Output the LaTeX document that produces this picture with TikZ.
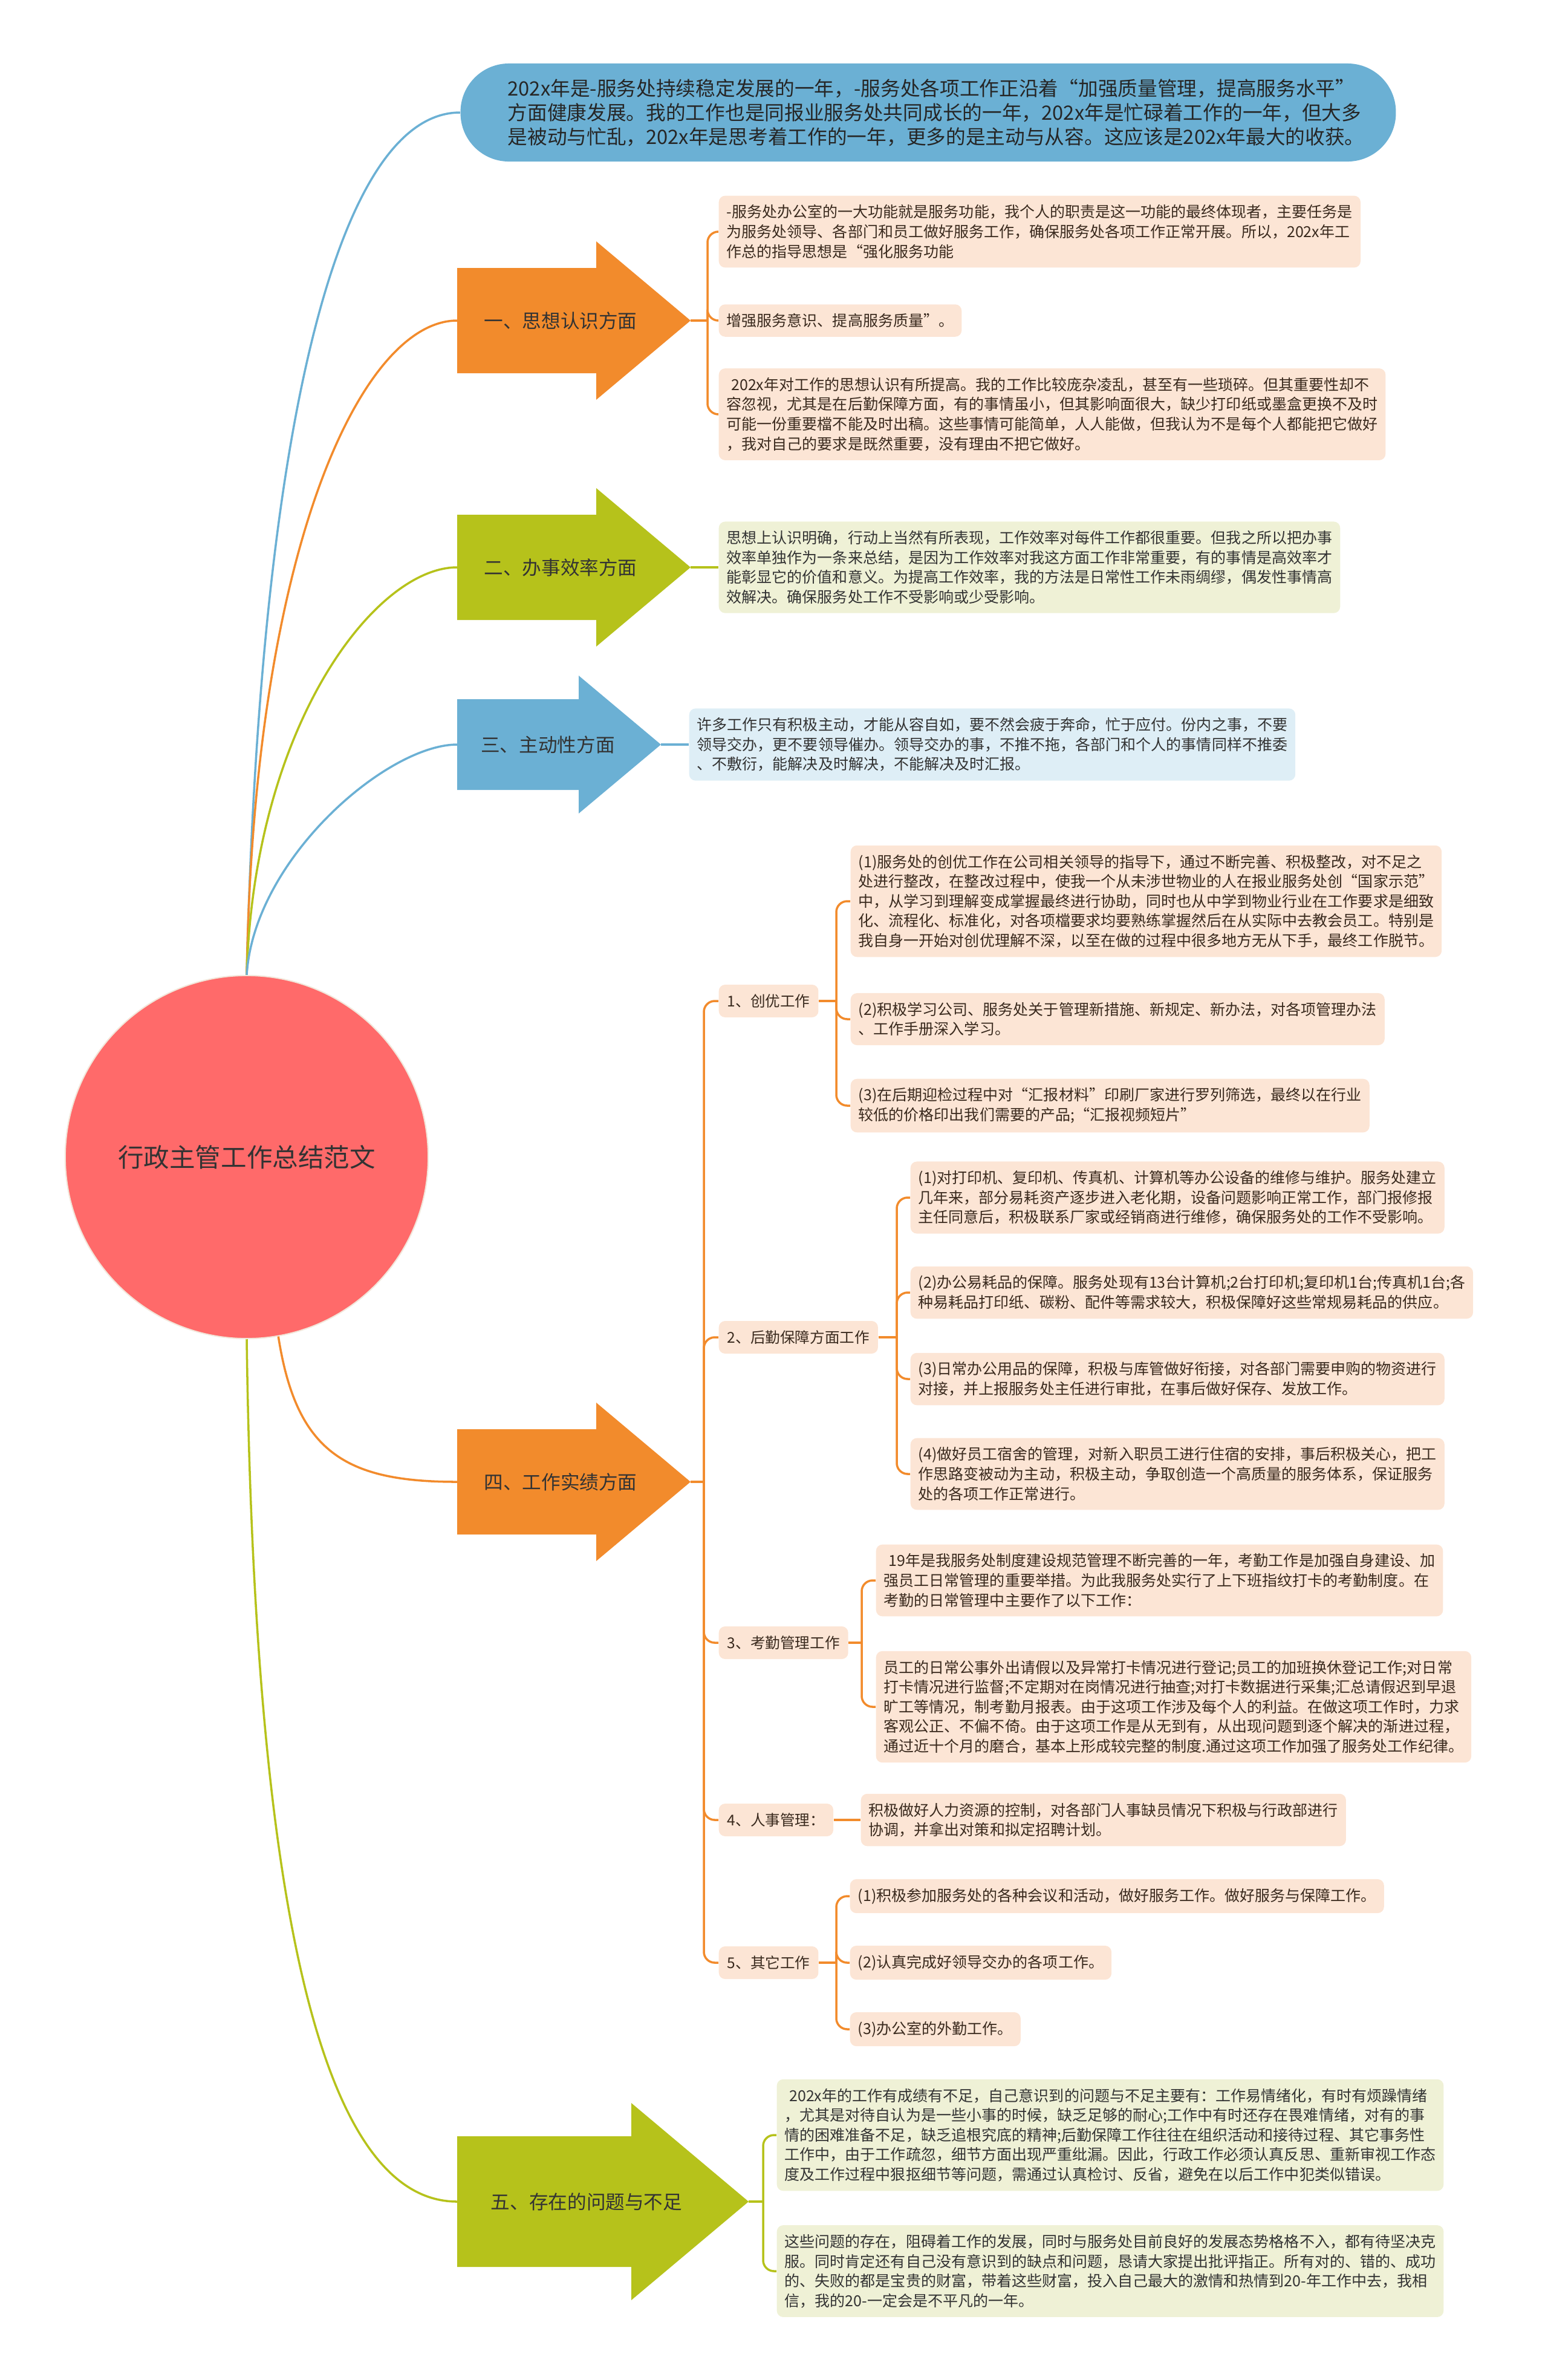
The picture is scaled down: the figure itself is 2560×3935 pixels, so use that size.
\documentclass[tikz,border=0pt]{standalone}
\usepackage{fontspec}
\setmainfont{Noto Sans CJK SC}
\definecolor{orA}{HTML}{F28B2C}
\definecolor{grA}{HTML}{B6C21B}
\definecolor{blA}{HTML}{6BB0D4}
\definecolor{rdA}{HTML}{FF6A6A}
\definecolor{rim}{HTML}{F2E6DA}
\definecolor{orBox}{HTML}{FCE5D5}
\definecolor{grBox}{HTML}{EFF1D6}
\definecolor{blBox}{HTML}{DEEEF6}
\definecolor{txt}{HTML}{3A2A1E}
\begin{document}
\begin{tikzpicture}[x=0.01cm, y=-0.01cm,
  leaf/.style={anchor=west, align=left, rounded corners=3pt, inner xsep=0.13cm,
    inner ysep=0.15cm, font=\fontsize{7.12}{9.28}\selectfont, text=txt},
  orleaf/.style={leaf, fill=orBox},
  grleaf/.style={leaf, fill=grBox, text=black!80},
  blleaf/.style={leaf, fill=blBox, text=black!80},
  sub/.style={anchor=west, fill=orBox, rounded corners=3pt, inner xsep=0.14cm,
    minimum height=0.54cm, font=\fontsize{7}{9}\selectfont, text=txt},
  armtext/.style={font=\fontsize{9}{11}\selectfont, text=black!80},
  orline/.style={draw=orA, line width=1pt},
  grline/.style={draw=grA, line width=1pt},
  blline/.style={draw=blA, line width=1pt},
  brace/.style={rounded corners=0.18cm}]
  \useasboundingbox (0,0) rectangle (2560,3935);

  \foreach \n/\y/\c in {1/530/orA, 2/938/grA, 4/2450/orA} {
    \fill[\c] (756,\y-87) -- (986,\y-87) -- (986,\y-131) -- (1142,\y)
      -- (986,\y+131) -- (986,\y+87) -- (756,\y+87) -- cycle;
    \coordinate (s\n) at (756,\y);
    \coordinate (t\n) at (1142,\y);
  }
  \fill[blA] (756,1156) -- (957,1156) -- (957,1117) -- (1093,1231)
    -- (957,1345) -- (957,1306) -- (756,1306) -- cycle;
  \coordinate (s3) at (756,1231);
  \coordinate (t3) at (1093,1231);
  \fill[grA] (756,3532) -- (1044,3532) -- (1044,3477) -- (1238,3640)
    -- (1044,3803) -- (1044,3748) -- (756,3748) -- cycle;
  \coordinate (s5) at (756,3640);
  \coordinate (t5) at (1238,3640);

  \node[armtext] (b1) at (927,530) {一、思想认识方面};
  \node[armtext] (b2) at (927,938) {二、办事效率方面};
  \node[armtext] (b3) at (906,1231) {三、主动性方面};
  \node[armtext] (b4) at (927,2450) {四、工作实绩方面};
  \node[armtext] (b5) at (970,3640) {五、存在的问题与不足};

  \node[circle, fill=rdA, draw=rim, line width=0.6pt, minimum size=6cm, inner sep=0pt,
    font=\fontsize{12.1}{14}\selectfont, text=black!80] (root) at (408,1913) {行政主管工作总结范文};

  \node[fill=blA, rounded corners=0.8cm, minimum height=1.62cm, text width=13.9cm,
    inner xsep=0.78cm, align=left, font=\fontsize{9.3}{11.4}\selectfont, text=black!85]
    (top) at (1535,186) {202x年是-服务处持续稳定发展的一年，-服务处各项工作正沿着“加强质量管理，提高服务水平”\\
    方面健康发展。我的工作也是同报业服务处共同成长的一年，202x年是忙碌着工作的一年，但大多\\
    是被动与忙乱，202x年是思考着工作的一年，更多的是主动与从容。这应该是202x年最大的收获。};

  \draw[blline] (root.north) .. controls (430,700) and (560,186) .. (top.west);
  \draw[orline] (root.north) .. controls (420,900) and (600,530) .. (s1);
  \draw[grline] (root.north) .. controls (420,1200) and (620,938) .. (s2);
  \draw[blline] (root.north) .. controls (420,1420) and (640,1231) .. (s3);
  \draw[orline] (root.-80) .. controls (490,2400) and (570,2450) .. (s4);
  \draw[grline] (root.south) .. controls (420,3100) and (520,3640) .. (s5);

  \node[orleaf] (sx1) at (1188,383) {-服务处办公室的一大功能就是服务功能，我个人的职责是这一功能的最终体现者，主要任务是\\
    为服务处领导、各部门和员工做好服务工作，确保服务处各项工作正常开展。所以，202x年工\\
    作总的指导思想是“强化服务功能};
  \node[orleaf] (sx2) at (1188,530) {增强服务意识、提高服务质量”。};
  \node[orleaf] (sx3) at (1188,685) {\hspace*{0.3em}202x年对工作的思想认识有所提高。我的工作比较庞杂凌乱，甚至有一些琐碎。但其重要性却不\\
    容忽视，尤其是在后勤保障方面，有的事情虽小，但其影响面很大，缺少打印纸或墨盒更换不及时\\
    可能一份重要檔不能及时出稿。这些事情可能简单，人人能做，但我认为不是每个人都能把它做好\\
    ，我对自己的要求是既然重要，没有理由不把它做好。};
  \coordinate (j1) at (1170,530);
  \draw[orline] (t1) -- (j1);
  \foreach \k in {sx1,sx2,sx3} \draw[orline, brace] (j1) |- (\k.west);

  \node[grleaf] (xl1) at (1188,938) {思想上认识明确，行动上当然有所表现，工作效率对每件工作都很重要。但我之所以把办事\\
    效率单独作为一条来总结，是因为工作效率对我这方面工作非常重要，有的事情是高效率才\\
    能彰显它的价值和意义。为提高工作效率，我的方法是日常性工作未雨绸缪，偶发性事情高\\
    效解决。确保服务处工作不受影响或少受影响。};
  \draw[grline] (t2) -- (xl1.west);

  \node[blleaf] (zd1) at (1139,1231) {许多工作只有积极主动，才能从容自如，要不然会疲于奔命，忙于应付。份内之事，不要\\
    领导交办，更不要领导催办。领导交办的事，不推不拖，各部门和个人的事情同样不推委\\
    、不敷衍，能解决及时解决，不能解决及时汇报。};
  \draw[blline] (t3) -- (zd1.west);

  \node[sub] (chuang) at (1188,1655) {1、创优工作};
  \node[sub] (houqin) at (1188,2211) {2、后勤保障方面工作};
  \node[sub] (kaoqin) at (1188,2716) {3、考勤管理工作};
  \node[sub] (renshi) at (1188,3009) {4、人事管理：};
  \node[sub] (qita) at (1188,3245) {5、其它工作};
  \coordinate (j4) at (1164,2450);
  \draw[orline] (t4) -- (j4);
  \foreach \k in {chuang,houqin,kaoqin,renshi,qita} \draw[orline, brace] (j4) |- (\k.west);

  \node[orleaf] (chuang1) at (1406,1490) {(1)服务处的创优工作在公司相关领导的指导下，通过不断完善、积极整改，对不足之\\
    处进行整改，在整改过程中，使我一个从未涉世物业的人在报业服务处创“国家示范”\\
    中，从学习到理解变成掌握最终进行协助，同时也从中学到物业行业在工作要求是细致\\
    化、流程化、标准化，对各项檔要求均要熟练掌握然后在从实际中去教会员工。特别是\\
    我自身一开始对创优理解不深，以至在做的过程中很多地方无从下手，最终工作脱节。};
  \node[orleaf] (chuang2) at (1406,1685) {(2)积极学习公司、服务处关于管理新措施、新规定、新办法，对各项管理办法\\
    、工作手册深入学习。};
  \node[orleaf] (chuang3) at (1406,1828) {(3)在后期迎检过程中对“汇报材料”印刷厂家进行罗列筛选，最终以在行业\\
    较低的价格印出我们需要的产品;“汇报视频短片”};
  \coordinate (jc) at (1383,1655);
  \draw[orline] (chuang.east) -- (jc);
  \foreach \k in {chuang1,chuang2,chuang3} \draw[orline, brace] (jc) |- (\k.west);

  \node[orleaf] (houqin1) at (1505,1980) {(1)对打印机、复印机、传真机、计算机等办公设备的维修与维护。服务处建立\\
    几年来，部分易耗资产逐步进入老化期，设备问题影响正常工作，部门报修报\\
    主任同意后，积极联系厂家或经销商进行维修，确保服务处的工作不受影响。};
  \node[orleaf] (houqin2) at (1505,2137) {(2)办公易耗品的保障。服务处现有13台计算机;2台打印机;复印机1台;传真机1台;各\\
    种易耗品打印纸、碳粉、配件等需求较大，积极保障好这些常规易耗品的供应。};
  \node[orleaf] (houqin3) at (1505,2280) {(3)日常办公用品的保障，积极与库管做好衔接，对各部门需要申购的物资进行\\
    对接，并上报服务处主任进行审批，在事后做好保存、发放工作。};
  \node[orleaf] (houqin4) at (1505,2437) {(4)做好员工宿舍的管理，对新入职员工进行住宿的安排，事后积极关心，把工\\
    作思路变被动为主动，积极主动，争取创造一个高质量的服务体系，保证服务\\
    处的各项工作正常进行。};
  \coordinate (jh) at (1483,2211);
  \draw[orline] (houqin.east) -- (jh);
  \foreach \k in {houqin1,houqin2,houqin3,houqin4} \draw[orline, brace] (jh) |- (\k.west);

  \node[orleaf] (kaoqin1) at (1448,2613) {\hspace*{0.3em}19年是我服务处制度建设规范管理不断完善的一年，考勤工作是加强自身建设、加\\
    强员工日常管理的重要举措。为此我服务处实行了上下班指纹打卡的考勤制度。在\\
    考勤的日常管理中主要作了以下工作：};
  \node[orleaf] (kaoqin2) at (1448,2822) {员工的日常公事外出请假以及异常打卡情况进行登记;员工的加班换休登记工作;对日常\\
    打卡情况进行监督;不定期对在岗情况进行抽查;对打卡数据进行采集;汇总请假迟到早退\\
    旷工等情况，制考勤月报表。由于这项工作涉及每个人的利益。在做这项工作时，力求\\
    客观公正、不偏不倚。由于这项工作是从无到有，从出现问题到逐个解决的渐进过程，\\
    通过近十个月的磨合，基本上形成较完整的制度.通过这项工作加强了服务处工作纪律。};
  \coordinate (jk) at (1425,2716);
  \draw[orline] (kaoqin.east) -- (jk);
  \foreach \k in {kaoqin1,kaoqin2} \draw[orline, brace] (jk) |- (\k.west);

  \node[orleaf] (renshi1) at (1423,3009) {积极做好人力资源的控制，对各部门人事缺员情况下积极与行政部进行\\
    协调，并拿出对策和拟定招聘计划。};
  \draw[orline] (renshi.east) -- (renshi1.west);

  \node[orleaf] (qita1) at (1405,3135) {(1)积极参加服务处的各种会议和活动，做好服务工作。做好服务与保障工作。};
  \node[orleaf] (qita2) at (1405,3245) {(2)认真完成好领导交办的各项工作。};
  \node[orleaf] (qita3) at (1405,3355) {(3)办公室的外勤工作。};
  \coordinate (jq) at (1383,3245);
  \draw[orline] (qita.east) -- (jq);
  \foreach \k in {qita1,qita2,qita3} \draw[orline, brace] (jq) |- (\k.west);

  \node[grleaf] (wt1) at (1284,3530) {\hspace*{0.3em}202x年的工作有成绩有不足，自己意识到的问题与不足主要有：工作易情绪化，有时有烦躁情绪\\
    ，尤其是对待自认为是一些小事的时候，缺乏足够的耐心;工作中有时还存在畏难情绪，对有的事\\
    情的困难准备不足，缺乏追根究底的精神;后勤保障工作往往在组织活动和接待过程、其它事务性\\
    工作中，由于工作疏忽，细节方面出现严重纰漏。因此，行政工作必须认真反思、重新审视工作态\\
    度及工作过程中狠抠细节等问题，需通过认真检讨、反省，避免在以后工作中犯类似错误。};
  \node[grleaf] (wt2) at (1284,3755) {这些问题的存在，阻碍着工作的发展，同时与服务处目前良好的发展态势格格不入，都有待坚决克\\
    服。同时肯定还有自己没有意识到的缺点和问题，恳请大家提出批评指正。所有对的、错的、成功\\
    的、失败的都是宝贵的财富，带着这些财富，投入自己最大的激情和热情到20-年工作中去，我相\\
    信，我的20-一定会是不平凡的一年。};
  \coordinate (j5) at (1262,3640);
  \draw[grline] (t5) -- (j5);
  \foreach \k in {wt1,wt2} \draw[grline, brace] (j5) |- (\k.west);
\end{tikzpicture}
\end{document}
